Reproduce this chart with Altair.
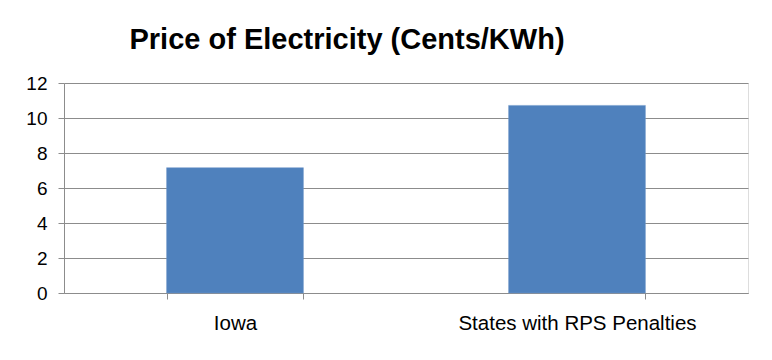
import altair as alt
import pandas as pd

categories = ["Iowa", "States with RPS Penalties"]
prices = [7.16, 10.72]
y_ticks = [0, 2, 4, 6, 8, 10, 12]

df = pd.DataFrame({"category": categories, "price": prices})

FONT = "Liberation Sans"
GRAY = "#8c8c8c"

bars = alt.Chart(df).mark_bar(color="#4F81BD", stroke="#6f97c9", strokeWidth=0.5).encode(
    x=alt.X(
        "category:N",
        sort=categories,
        scale=alt.Scale(paddingInner=0.6, paddingOuter=0.3),
        axis=alt.Axis(
            title=None,
            labelAngle=0,
            labelFont=FONT,
            labelFontSize=20.5,
            labelColor="#000000",
            labelPadding=14,
            labelLimit=0,
            tickBand="extent",
            tickSize=6,
            tickColor=GRAY,
            domainColor=GRAY,
            grid=False,
        ),
    ),
    y=alt.Y(
        "price:Q",
        scale=alt.Scale(domain=[0, 12], nice=False),
        axis=alt.Axis(
            title=None,
            values=y_ticks,
            labelFont=FONT,
            labelFontSize=19,
            labelColor="#000000",
            labelPadding=11,
            tickSize=6,
            tickColor=GRAY,
            domainColor=GRAY,
            gridColor=GRAY,
            gridOpacity=1,
        ),
    ),
)

chart = bars.properties(
    width=684,
    height=210,
    title=alt.TitleParams(
        "Price of Electricity (Cents/KWh)",
        font=FONT,
        fontSize=29,
        fontWeight="bold",
        color="#000000",
        anchor="middle",
        dx=-59,
        offset=19,
    ),
    autosize=alt.AutoSizeParams(type="none"),
    padding={"left": 56, "top": 75, "right": 16, "bottom": 59},
).configure_view(stroke=None).configure(background="#ffffff")

chart.save("out.html", embed_options={"renderer": "svg", "actions": False})
